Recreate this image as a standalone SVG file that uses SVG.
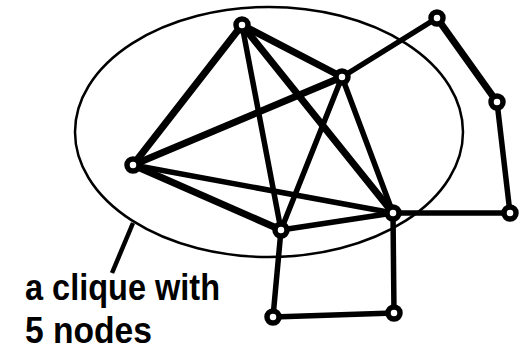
<svg xmlns="http://www.w3.org/2000/svg" width="520" height="350" viewBox="0 0 520 350">
<style>
.e{stroke:#000;stroke-width:5.5;stroke-linecap:round;fill:none}
.w{stroke-width:7}
.n{fill:#fff;stroke:#000;stroke-width:5.5}
.t{font-family:"Liberation Sans",Arial,sans-serif;font-weight:bold;font-size:36px;fill:#000}
</style>
<rect width="520" height="350" fill="#fff"/>
<ellipse cx="269" cy="132" rx="194" ry="125" fill="none" stroke="#000" stroke-width="2.5"/>
<line x1="133" y1="223" x2="112" y2="273" stroke="#000" stroke-width="4.5"/>
<g id="connectors">
<line class="e w" x1="242" y1="25" x2="133" y2="165"/>
<line class="e w" x1="242" y1="25" x2="342" y2="77"/>
<line class="e" x1="242" y1="25" x2="281" y2="230"/>
<line class="e w" x1="242" y1="25" x2="393" y2="213"/>
<line class="e w" x1="342" y1="77" x2="133" y2="165"/>
<line class="e" x1="342" y1="77" x2="281" y2="230"/>
<line class="e" x1="342" y1="77" x2="393" y2="213"/>
<line class="e w" x1="133" y1="165" x2="281" y2="230"/>
<line class="e" x1="133" y1="165" x2="393" y2="213"/>
<line class="e" x1="281" y1="230" x2="393" y2="213"/>
<line class="e" x1="342" y1="77" x2="437" y2="18"/>
<line class="e w" x1="437" y1="18" x2="497" y2="102"/>
<line class="e" x1="497" y1="102" x2="510" y2="213"/>
<line class="e" x1="510" y1="213" x2="393" y2="213"/>
<line class="e" x1="393" y1="213" x2="394" y2="313"/>
<line class="e" x1="394" y1="313" x2="273" y2="317"/>
<line class="e" x1="273" y1="317" x2="281" y2="230"/>
</g>
<g id="nA"><circle class="n" cx="242" cy="25" r="6"/></g>
<g id="nB"><circle class="n" cx="342" cy="77" r="6"/></g>
<g id="nC"><circle class="n" cx="133" cy="165" r="6"/></g>
<g id="nD"><circle class="n" cx="281" cy="230" r="6"/></g>
<g id="nE"><circle class="n" cx="393" cy="213" r="6"/></g>
<g id="nF"><circle class="n" cx="437" cy="18" r="6"/></g>
<g id="nG"><circle class="n" cx="497" cy="102" r="6"/></g>
<g id="nH"><circle class="n" cx="510" cy="213" r="6"/></g>
<g id="nI"><circle class="n" cx="273" cy="317" r="6"/></g>
<g id="nJ"><circle class="n" cx="394" cy="313" r="6"/></g>
<g id="label">
<text class="t" x="25" y="300" textLength="195" lengthAdjust="spacingAndGlyphs">a clique with</text>
<text class="t" x="25" y="343" textLength="127" lengthAdjust="spacingAndGlyphs">5 nodes</text>
</g>
</svg>
